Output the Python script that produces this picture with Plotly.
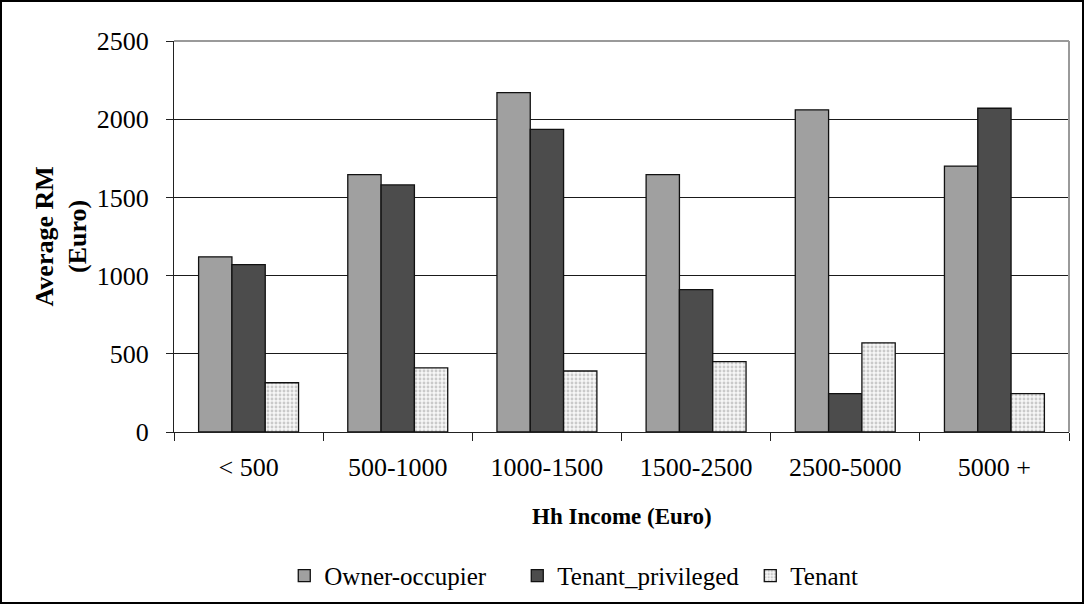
import plotly.graph_objects as go

# Household income bands (Euro)
categories = ["< 500", "500-1000", "1000-1500", "1500-2500", "2500-5000", "5000 +"]

# Average RM (Euro) per tenure type
owner_occupier = [1120, 1645, 2170, 1645, 2060, 1700]
tenant_privileged = [1070, 1580, 1935, 910, 245, 2070]
tenant = [315, 410, 390, 450, 570, 245]

y_ticks = [0, 500, 1000, 1500, 2000, 2500]

FONT = "Liberation Serif, Times New Roman, serif"

fig = go.Figure()

fig.add_trace(go.Bar(
    name="Owner-occupier", x=categories, y=owner_occupier,
    marker=dict(color="#a0a0a0", line=dict(color="#111111", width=1.3)),
))
fig.add_trace(go.Bar(
    name="Tenant_privileged", x=categories, y=tenant_privileged,
    marker=dict(color="#4c4c4c", line=dict(color="#111111", width=1.3)),
))
fig.add_trace(go.Bar(
    name="Tenant", x=categories, y=tenant,
    marker=dict(
        color="#f4f4f4",
        line=dict(color="#111111", width=1.3),
        pattern=dict(shape=".", fgcolor="#cacaca", bgcolor="#f7f7f7",
                     size=4, solidity=0.4, fillmode="replace"),
    ),
))

fig.update_layout(
    width=1085, height=605,
    margin=dict(l=174, r=16, t=41, b=173, autoexpand=False),
    paper_bgcolor="white", plot_bgcolor="white",
    font=dict(family=FONT, size=26, color="black"),
    barmode="group", bargap=0.33, bargroupgap=0,
    showlegend=True,
    legend=dict(
        orientation="h", xref="container", yref="container",
        x=0.262, xanchor="left", y=0.048, yanchor="middle",
        font=dict(family=FONT, size=25, color="black"),
        entrywidth=188, entrywidthmode="pixels",
        bgcolor="rgba(0,0,0,0)", traceorder="normal",
    ),
    xaxis=dict(
        type="category", tickson="boundaries",
        ticks="outside", ticklen=8, tickcolor="#222222", tickwidth=1,
        showline=True, linecolor="#222222", linewidth=1.3,
        showgrid=False, ticklabelstandoff=12,
        tickfont=dict(family=FONT, size=26, color="black"),
    ),
    yaxis=dict(
        range=[0, 2500], tickvals=y_ticks,
        ticks="outside", ticklen=7, tickcolor="#222222", tickwidth=1,
        showline=True, linecolor="#222222", linewidth=1.3,
        showgrid=True, gridcolor="#1a1a1a", gridwidth=1,
        zeroline=False, ticklabelstandoff=12,
        tickfont=dict(family=FONT, size=26, color="black"),
    ),
    annotations=[
        dict(text="<b>Hh Income (Euro)</b>", xref="paper", yref="paper",
             x=0.5, y=(432 - 516) / 391, showarrow=False,
             xanchor="center", yanchor="middle",
             font=dict(family=FONT, size=23, color="black")),
        dict(text="<b>Average RM<br>(Euro)</b>", xref="paper", yref="paper",
             x=(61 - 174) / 895, y=0.5, showarrow=False, textangle=-90,
             xanchor="center", yanchor="middle",
             font=dict(family=FONT, size=26, color="black")),
    ],
    shapes=[
        # grey frame on the top and right of the plotting area
        dict(type="line", xref="paper", yref="paper", x0=0, x1=1, y0=1, y1=1,
             line=dict(color="#9a9a9a", width=2), layer="above"),
        dict(type="line", xref="paper", yref="paper", x0=1, x1=1, y0=0, y1=1,
             line=dict(color="#9a9a9a", width=2), layer="above"),
        # outer chart border
        dict(type="rect", xref="paper", yref="paper",
             x0=(1 - 174) / 895, x1=(1083 - 174) / 895,
             y0=(432 - 603) / 391, y1=(432 - 1) / 391,
             line=dict(color="black", width=2), fillcolor="rgba(0,0,0,0)",
             layer="above"),
    ],
)

fig.write_html("out.html")
